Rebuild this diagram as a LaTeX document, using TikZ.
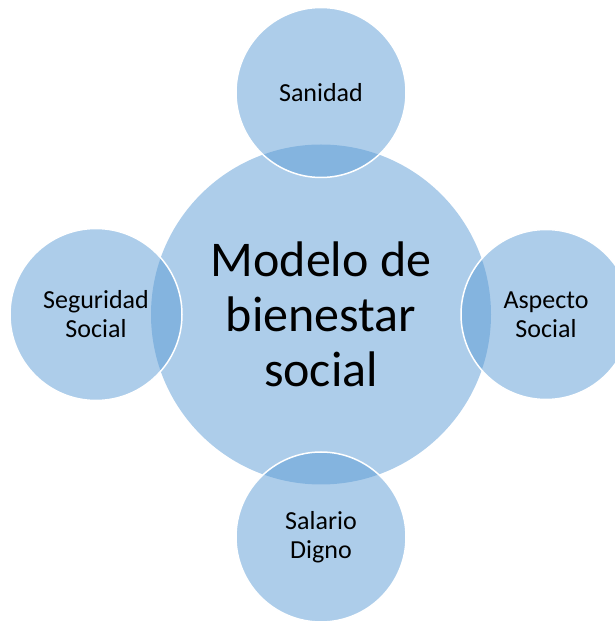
\documentclass[tikz,border=0pt]{standalone}
\usepackage{fontspec}
\setmainfont{Carlito}
\definecolor{bubblefill}{HTML}{5B9BD5}

\begin{document}
\begin{tikzpicture}[x=1pt,y=1pt,
  bubble/.style={circle, fill=bubblefill, fill opacity=0.5, text opacity=1,
    inner sep=0pt, align=center},
  hub/.style={bubble, minimum size=340pt, font=\fontsize{50}{55}\selectfont},
  spoke/.style={bubble, minimum size=170pt, draw=white, line width=1.5pt,
    font=\fontsize{26}{29}\selectfont}]
  \useasboundingbox (0,0) rectangle (615,622);
  \clip (0,0) rectangle (615,622);
  \node (modelo)    at (321,307.5) [hub]   {Modelo de\\bienestar\\social};
  \node (sanidad)   at (321,529.5) [spoke] {Sanidad};
  \node (aspecto)   at (546,307.5) [spoke] {Aspecto\\Social};
  \node (salario)   at (321,85)    [spoke] {Salario\\Digno};
  \node (seguridad) at (96,307.5)  [spoke, minimum size=172pt] {Seguridad\\Social};
\end{tikzpicture}
\end{document}
